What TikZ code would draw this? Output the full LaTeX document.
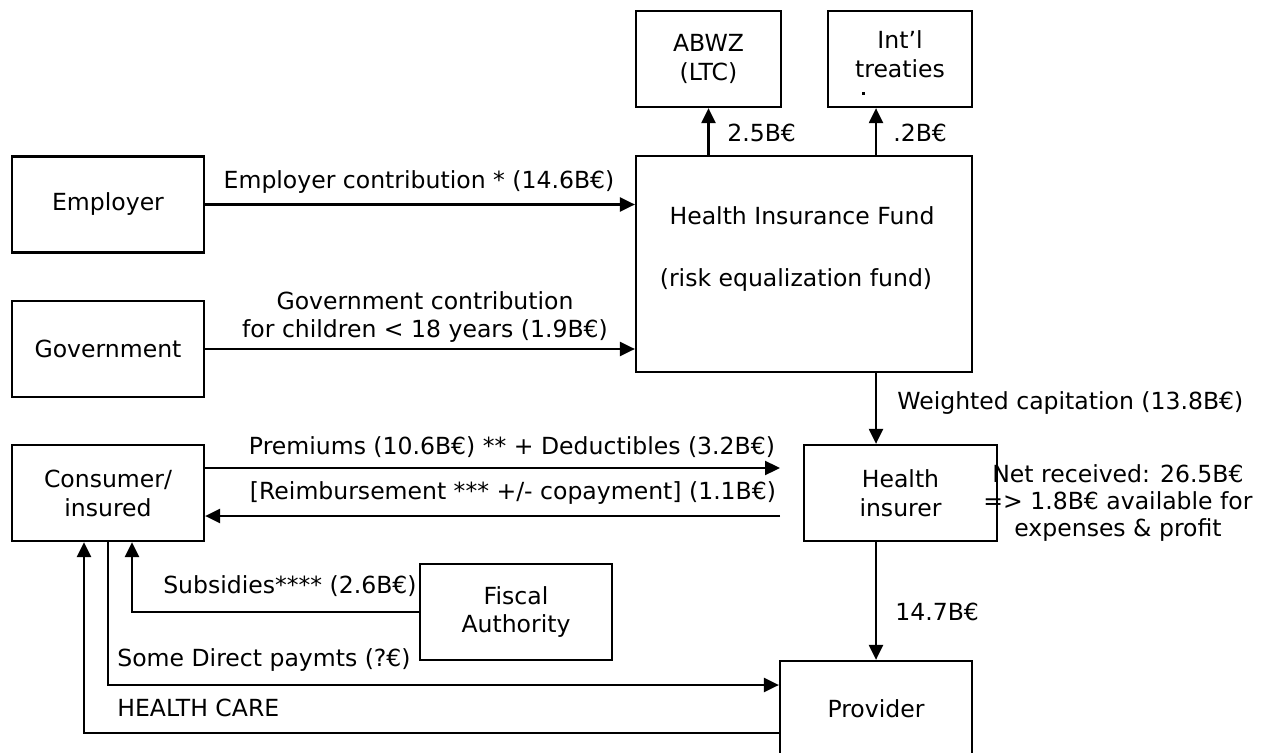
\documentclass[tikz,border=0pt]{standalone}
\usepackage{fontspec}
\setmainfont{DejaVu Sans}
\usetikzlibrary{calc, positioning, arrows.meta}

\begin{document}
\begin{tikzpicture}[
    x=0.02cm, y=-0.02cm,
    font=\fontsize{13.4}{16.5}\selectfont,
    flowbox/.style={draw, line width=1.3pt, minimum width=3.84cm,
      minimum height=1.92cm, inner sep=2pt, align=center},
    flow/.style={line width=1.3pt, -{Triangle[length=0.3cm, width=0.28cm]}},
    lbl/.style={inner sep=0pt, align=center},
  ]
    \useasboundingbox (0,0) rectangle (1274,753);
    \clip (0,0) rectangle (1274,753);
    \node[flowbox] (emp) at (108,204.5) {Employer};
    \node[flowbox] (gov) at (108,349) {Government};
    \node[flowbox] (cons) at (108,493) {Consumer/\\insured};
    \node[flowbox, minimum width=6.72cm, minimum height=4.32cm] (hif) at (804,264) {};
    \node[flowbox, minimum width=2.9cm] (abwz) at (708.5,59) {ABWZ\\(LTC)};
    \node[flowbox, minimum width=2.88cm] (intl) at (900,59) {};
    \node[lbl] (intlt) at (900,54) {Int’l\\treaties};
    \fill (861.5,92.5) rectangle (864.5,95.5);
    \node[flowbox, minimum width=3.86cm] (ins) at (900.5,493) {Health\\insurer};
    \node[flowbox] (fisc) at (516,612) {Fiscal\\Authority};
    \node[flowbox] (prov) at (876,709) {Provider};
    \node[lbl] (hift) at (802,216) {Health Insurance Fund};
    \node[lbl] (hifs) at (796,280) {(risk equalization fund)};
    \coordinate (cap) at (876,0);
    \coordinate (prem) at (780,468);
    \coordinate (reim) at (780,516);
    \coordinate (sub) at (132,0);
    \coordinate (dir) at (108,685);
    \coordinate (care) at (84,733);
    \draw[flow] (emp.east) -- (emp.east -| hif.west);
    \draw[flow] (gov.east) -- (gov.east -| hif.west);
    \draw[flow] (hif.north -| abwz) -- (abwz.south);
    \draw[flow] (hif.north -| cap) -- (intl.south -| cap);
    \draw[flow] (hif.south -| cap) -- (ins.north -| cap);
    \draw[flow] (ins.south -| prov) -- (prov.north);
    \draw[flow] (cons.east |- prem) -- (prem);
    \draw[flow] (reim) -- (cons.east |- reim);
    \draw[flow] (fisc.west) -| (cons.south -| sub);
    \draw[flow] (cons.south -| dir) |- (prov.west |- dir);
    \draw[flow] (prov.west |- care) -| (cons.south -| care);
    \node[lbl] (lemp) at (419,182) {Employer contribution * (14.6B€)};
    \node[lbl] (lgov) at (425,317) {Government contribution\\for children < 18 years (1.9B€)};
    \node[lbl, anchor=west] (labwz) at (727,133) {2.5B€};
    \node[lbl, anchor=west] (lintl) at (893,133) {.2B€};
    \node[lbl, anchor=west] (lcap) at (897,403) {Weighted capitation (13.8B€)};
    \node[lbl, font=\fontsize{13.4}{15.6}\selectfont] (lnet) at (1118,503)
      {Net received: 26.5B€\\=> 1.8B€ available for\\expenses \& profit};
    \node[lbl, anchor=west] (lprov) at (895,612) {14.7B€};
    \node[lbl] (lprem) at (512,447) {Premiums (10.6B€) ** + Deductibles (3.2B€)};
    \node[lbl] (lreim) at (513,493) {[Reimbursement *** +/- copayment] (1.1B€)};
    \node[lbl, anchor=east] (lsub) at (417,586) {Subsidies**** (2.6B€)};
    \node[lbl, anchor=west] (ldir) at (117,660) {Some Direct paymts (?€)};
    \node[lbl, anchor=west] (lcare) at (117,708) {HEALTH CARE};
  \end{tikzpicture}
\end{document}
